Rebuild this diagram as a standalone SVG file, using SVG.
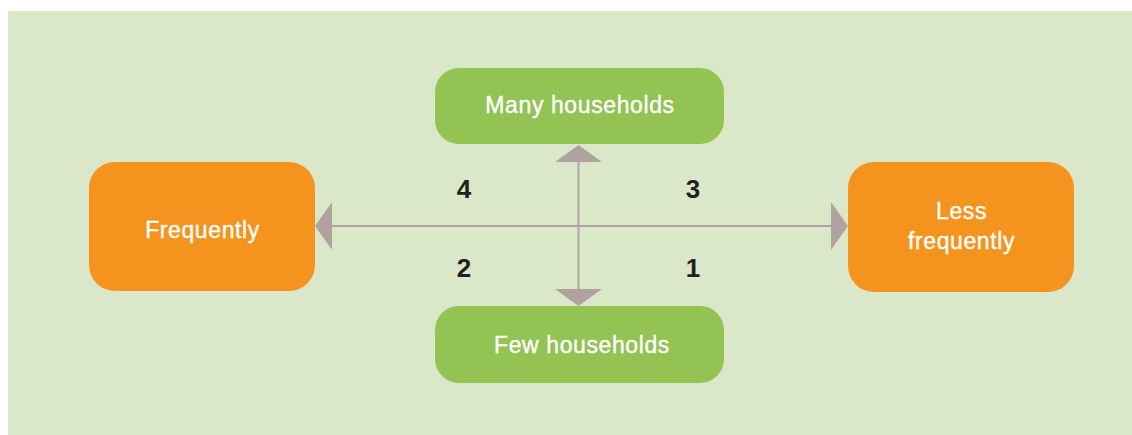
<svg xmlns="http://www.w3.org/2000/svg" width="1132" height="435" viewBox="0 0 1132 435">
  <style>
    .bg { fill: #dae8c9; }
    .green { fill: #92c353; }
    .orange { fill: #f5931f; }
    .label { font-family: "Liberation Sans", Arial, sans-serif; font-size: 23px; fill: #ffffff; stroke: #ffffff; stroke-width: 0.35; text-anchor: middle; letter-spacing: 0.6px; }
    .num { font-family: "Liberation Sans", Arial, sans-serif; font-size: 26px; font-weight: bold; fill: #231f20; text-anchor: middle; }
    .axis { stroke: #b0a39f; stroke-width: 2; fill: none; }
    .head { fill: #b0a39f; }
  </style>

  <rect class="bg" x="8" y="11" width="1124" height="424"/>

  <!-- axes -->
  <g id="connectors">
    <line class="axis" x1="330" y1="226" x2="832" y2="226"/>
    <line class="axis" x1="578.5" y1="160" x2="578.5" y2="291"/>
    <polygon class="head" points="315,226 332,202 332,250"/>
    <polygon class="head" points="848,226 831,202 831,250"/>
    <polygon class="head" points="578.5,145 602,162 555,162"/>
    <polygon class="head" points="578.5,306 602,289 555,289"/>
  </g>

  <g id="node-many">
    <rect class="green" x="435" y="68" width="289" height="76" rx="24"/>
    <text class="label" x="580" y="113">Many households</text>
  </g>

  <g id="node-few">
    <rect class="green" x="435" y="306" width="289" height="77" rx="24"/>
    <text class="label" x="582" y="352.5">Few households</text>
  </g>

  <g id="node-frequently">
    <rect class="orange" x="89" y="162" width="226" height="129" rx="26"/>
    <text class="label" x="202.5" y="237.5">Frequently</text>
  </g>

  <g id="node-less-frequently">
    <rect class="orange" x="848" y="162" width="226" height="130" rx="26"/>
    <text class="label" x="961.5" y="219">Less</text>
    <text class="label" x="961.5" y="249">frequently</text>
  </g>

  <g id="quadrants">
    <text class="num" x="464" y="198">4</text>
    <text class="num" x="693" y="198">3</text>
    <text class="num" x="464" y="277">2</text>
    <text class="num" x="693" y="277">1</text>
  </g>
</svg>
